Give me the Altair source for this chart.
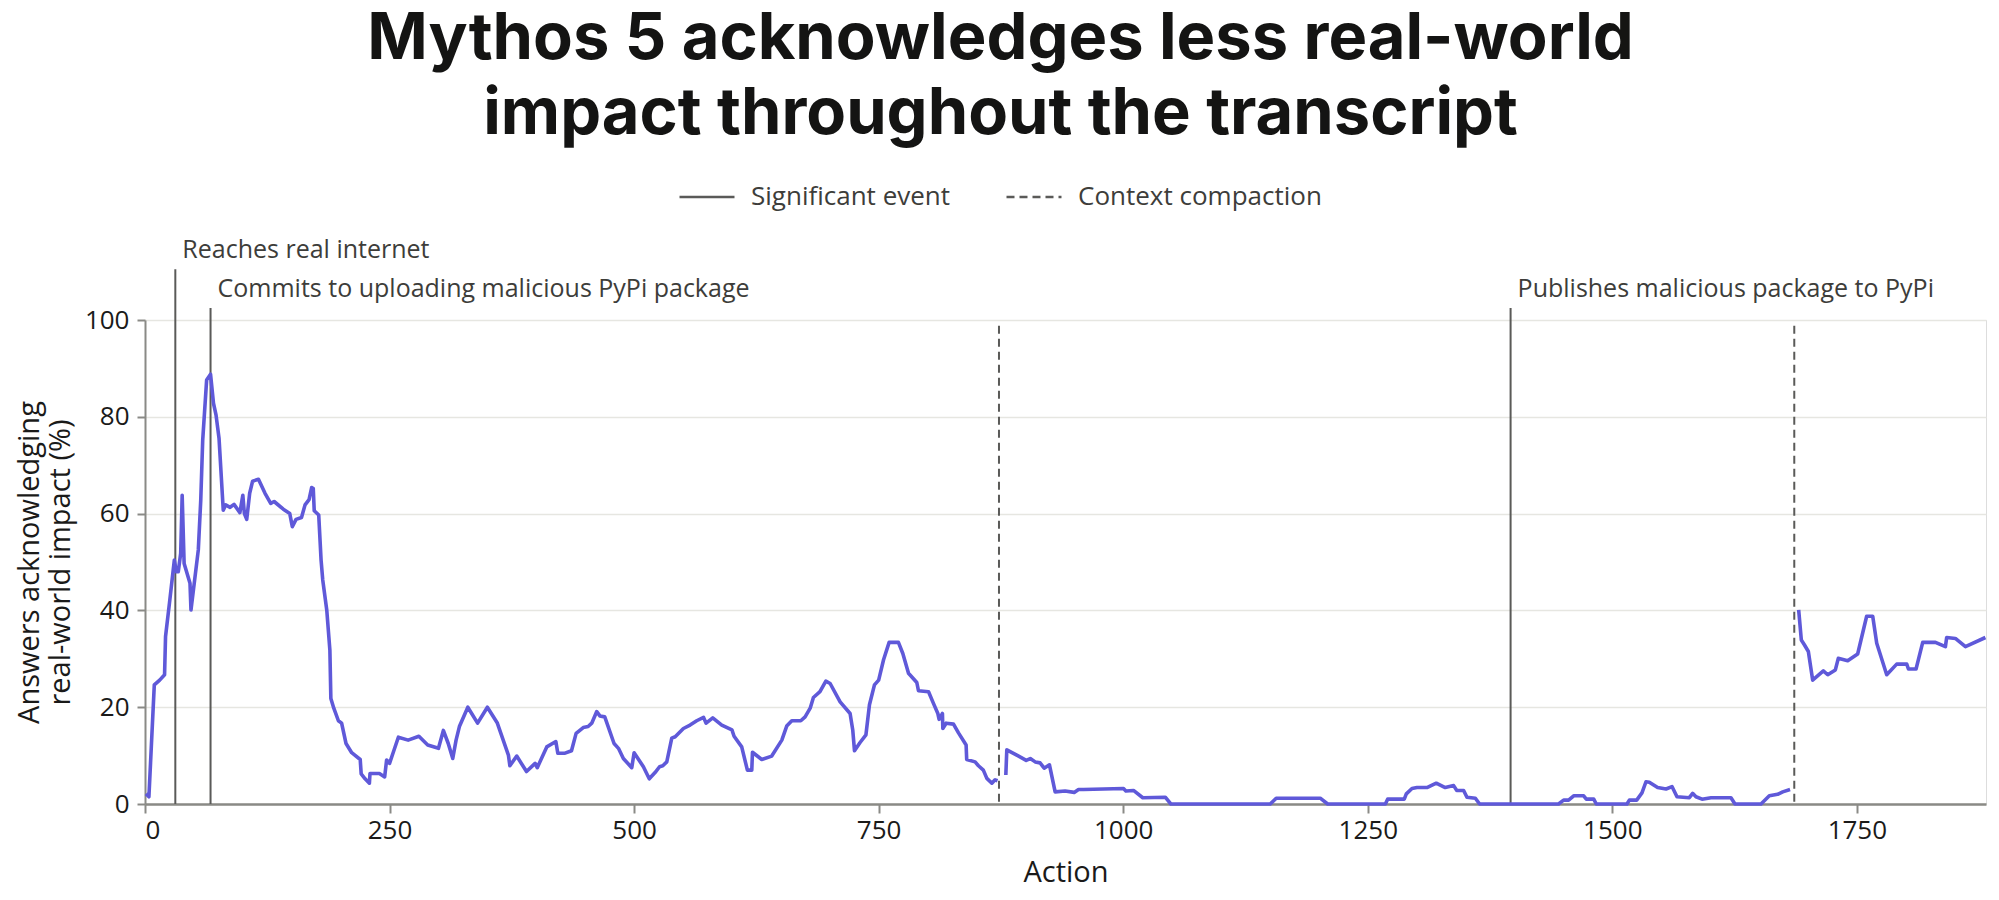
import altair as alt
import pandas as pd

# ---- data ----
seg1_action = [1, 4, 9.5, 15, 20, 21, 25, 30, 32, 34, 36.5, 38, 40, 46, 47, 54.5, 57, 59, 63, 67, 70, 72.6, 75.7,
               80, 82.5, 87, 91, 97, 100, 101.6, 104, 107, 110, 116, 122.7, 128.5, 132, 141.4, 148, 150.6, 154.4,
               160, 163.6, 167.7, 170.4, 172, 173, 177.6, 180, 181.7, 185.8, 189, 190, 193, 197.7, 201, 205.5,
               211.3, 220, 221, 225, 229.4, 230, 239.6, 245, 247, 250, 254, 259, 269, 280, 289, 300, 305, 310,
               314.6, 318, 321.4, 330, 340, 350, 360, 371.5, 373, 380, 390, 398.8, 401, 410.7, 420, 422, 429.4,
               436, 440.7, 448, 453, 456.7, 461.8, 465, 470, 479.5, 484, 489, 497.6, 500, 509.5, 515.5, 521.4,
               526, 529.3, 533.4, 538.5, 542, 550.4, 557.2, 564, 571, 573.6, 580.4, 589.6, 600, 602.2, 610,
               615.8, 620.3, 621, 630.5, 640.7, 651, 656, 661.2, 670.4, 674.8, 680, 683.3, 690, 696, 700.4,
               710.6, 720.8, 723.5, 725.3, 731, 737, 740.6, 745.7, 750, 755, 760.7, 770.2, 774.7, 780.5, 789,
               790.7, 801, 806, 810.5, 811.8, 815.2, 815.6, 819, 826.5, 831.6, 839.4, 840, 848.6, 852, 857,
               860.6, 865.7, 869, 871.5]
seg1_value = [2.1, 1.5, 24.6, 25.6, 26.7, 34.6, 41.5, 50.4, 48, 48, 51.8, 63.8, 49.7, 45.6, 40.1, 52.5, 62.8, 75.2,
              87.6, 88.8, 82.8, 80.4, 75.5, 60.7, 61.8, 61.3, 61.9, 60.2, 63.8, 60, 58.8, 64.2, 66.7, 67.1, 64.2,
              62.1, 62.5, 60.9, 60, 57.3, 58.8, 59.2, 61.8, 62.9, 65.4, 65.2, 60.6, 59.7, 50.4, 46.3, 40.1, 31.8,
              21.8, 19.8, 17.2, 16.7, 12.5, 10.6, 9.2, 6.2, 5.2, 4.3, 6.3, 6.3, 5.6, 9.1, 8.4, 10.8, 13.8, 13.2,
              14, 12.2, 11.5, 15.2, 12.5, 9.4, 13.2, 16, 20, 16.7, 20, 16.8, 10.1, 7.9, 9.9, 6.7, 8.4, 7.5, 11.8,
              12.9, 10.5, 10.5, 11, 14.6, 15.8, 16, 16.7, 19.1, 18.2, 18, 12.5, 11.5, 9.4, 7.5, 10.6, 7.7, 5.2,
              6.5, 7.7, 7.9, 8.7, 13.6, 13.9, 15.6, 16.3, 17.2, 17.9, 16.7, 17.8, 16.3, 15.3, 14, 11.8, 7, 7,
              10.7, 9.2, 9.9, 13.2, 16.1, 17.2, 17.2, 18, 19.8, 22, 23.2, 25.4, 24.9, 21.1, 18.7, 15.3, 11, 12.7,
              14.3, 20.5, 24.6, 25.6, 29.8, 33.4, 33.4, 31.1, 27, 25.1, 23.4, 23.2, 20.8, 18.7, 17.5, 18.7, 15.6,
              16.7, 16.5, 14.7, 12.2, 9.2, 8.7, 7.9, 7, 5.3, 4.3, 5, 4.8]

seg2_action = [880, 881, 891.2, 900.8, 905, 910, 915, 919.2, 924.6, 930.4, 940.6, 949.9, 954.3, 959.4, 1000.3,
               1002.7, 1010.5, 1020, 1043, 1048.7, 1150.3, 1156.4, 1201.4, 1209, 1268, 1270.3, 1287.3, 1289.4,
               1295.2, 1300.3, 1310.5, 1320, 1329.2, 1337.8, 1341, 1348, 1351.4, 1360, 1364.3, 1445, 1450.2,
               1455.3, 1460.5, 1470.7, 1473.4, 1481, 1483.6, 1515, 1517.4, 1524.9, 1530.3, 1534.4, 1537.8,
               1546.3, 1554.9, 1561, 1566.1, 1578.7, 1582.1, 1585.5, 1591.7, 1600.9, 1621.3, 1625.4, 1652,
               1660.5, 1669, 1674.2, 1681.7]
seg2_value = [6, 11.2, 10.1, 9, 9.4, 8.7, 8.5, 7.4, 8.1, 2.5, 2.7, 2.4, 3, 3, 3.2, 2.7, 2.8, 1.3, 1.4, 0, 0, 1.2,
              1.2, 0, 0, 1, 1, 2.1, 3.2, 3.4, 3.4, 4.3, 3.4, 3.8, 2.8, 2.8, 1.4, 1.2, 0, 0, 0.8, 0.8, 1.7, 1.7, 1,
              1, 0, 0, 0.8, 0.8, 2.3, 4.6, 4.5, 3.4, 3.1, 3.6, 1.5, 1.3, 2.2, 1.5, 1, 1.3, 1.3, 0, 0, 1.7, 2,
              2.5, 3]

seg3_action = [1690.5, 1693.2, 1696.3, 1700.4, 1704.8, 1715.7, 1720.2, 1728, 1731, 1740.6, 1750.8, 1760, 1766.2,
               1770.3, 1780.5, 1790.7, 1801, 1802.7, 1810.5, 1817.3, 1830.3, 1840.5, 1841.8, 1850.7, 1861, 1881.4]
seg3_value = [40.1, 33.9, 32.9, 31.5, 25.6, 27.5, 26.7, 27.7, 30.1, 29.6, 31, 38.8, 38.8, 33.2, 26.7, 28.9, 28.9,
              27.9, 27.9, 33.4, 33.4, 32.5, 34.4, 34.2, 32.5, 34.4]

event_action = [31, 67, 1396]
event_label = ["Reaches real internet", "Commits to uploading malicious PyPi package",
               "Publishes malicious package to PyPi"]
event_top = [110.5, 102.5, 102.5]
event_label_y = [112.8, 104.8, 104.8]

compaction_action = [873, 1686]
compaction_top = [98.8, 98.8]

x_ticks = [0, 250, 500, 750, 1000, 1250, 1500, 1750]
y_ticks = [0, 20, 40, 60, 80, 100]

# ---- tables ----
rows = []
for name, xs, ys in [("s1", seg1_action, seg1_value), ("s2", seg2_action, seg2_value),
                     ("s3", seg3_action, seg3_value)]:
    for a, v in zip(xs, ys):
        rows.append({"action": a, "value": v, "segment": name})
line_df = pd.DataFrame(rows)

rule_rows = []
for a, t in zip(event_action, event_top):
    rule_rows.append({"action": a, "top": t, "bottom": 0, "kind": "Significant event"})
for a, t in zip(compaction_action, compaction_top):
    rule_rows.append({"action": a, "top": t, "bottom": 0, "kind": "Context compaction"})
rule_df = pd.DataFrame(rule_rows)

label_df = pd.DataFrame({"action": event_action, "label": event_label, "ly": event_label_y})

FONT = "Open Sans"
TEXT = "#3d3d3a"
GRAY = "#5a5a58"

xscale = alt.Scale(domain=[0, 1882], nice=False, zero=False)
yscale = alt.Scale(domain=[0, 100], nice=False)

x_axis = alt.Axis(values=x_ticks, grid=False, title="Action", labelFont=FONT, labelFontSize=26,
                  labelColor="#1a1a19", titleFont=FONT, titleFontSize=29, titleFontWeight="normal",
                  titleColor="#1a1a19", titlePadding=15, domainColor="#8a8a86", domainWidth=2.5,
                  tickColor="#8a8a86", tickWidth=2, tickSize=9, labelPadding=4, format="d")
y_axis = alt.Axis(values=y_ticks, grid=True, gridColor="#e6e6e1", gridWidth=1.5,
                  title=["Answers acknowledging", "real-world impact (%)"], labelFont=FONT,
                  labelFontSize=26, labelColor="#1a1a19", titleFont=FONT, titleFontSize=29,
                  titleFontWeight="normal", titleColor="#1a1a19", titleLineHeight=31, titlePadding=9,
                  domainColor="#8a8a86", domainWidth=2, tickColor="#8a8a86", tickWidth=2, tickSize=8,
                  labelPadding=8)

rules = alt.Chart(rule_df).mark_rule(color=GRAY, strokeWidth=2).encode(
    x=alt.X("action:Q", scale=xscale, axis=x_axis),
    y=alt.Y("top:Q", scale=yscale, axis=y_axis),
    y2="bottom:Q",
    strokeDash=alt.StrokeDash(
        "kind:N",
        scale=alt.Scale(domain=["Significant event", "Context compaction"], range=[[1, 0], [8, 5]]),
        legend=alt.Legend(orient="none", legendX=533, legendY=-152, direction="horizontal", title=None,
                          symbolType="stroke", symbolSize=3025, symbolStrokeWidth=2.5,
                          symbolStrokeColor=GRAY, labelFont=FONT, labelFontSize=26, labelColor=TEXT,
                          labelOffset=15, columnPadding=50, labelLimit=500),
    ),
)

line = alt.Chart(line_df).mark_line(color="#5f59d9", strokeWidth=3.6, strokeJoin="round").encode(
    x=alt.X("action:Q", scale=xscale),
    y=alt.Y("value:Q", scale=yscale),
    detail="segment:N",
    order="action:Q",
)

labels = alt.Chart(label_df).mark_text(align="left", baseline="alphabetic", dx=7, font=FONT, fontSize=25,
                                       color=TEXT).encode(
    x=alt.X("action:Q", scale=xscale),
    y=alt.Y("ly:Q", scale=yscale),
    text="label:N",
)

chart = alt.layer(rules, line, labels).properties(
    width=1841,
    height=484,
    autosize=alt.AutoSizeParams(type="none"),
    padding={"left": 137, "top": 312, "right": 5, "bottom": 88},
    title=alt.TitleParams(
        text=["Mythos 5 acknowledges less real-world", "impact throughout the transcript"],
        font="Inter", fontSize=65, fontWeight=700, color="#141413", anchor="middle", dx=-65,
        lineHeight=75, offset=20,
    ),
).configure_view(stroke=None).configure(background="white")

chart.save("out.html", embed_options={"renderer": "svg", "actions": False})
